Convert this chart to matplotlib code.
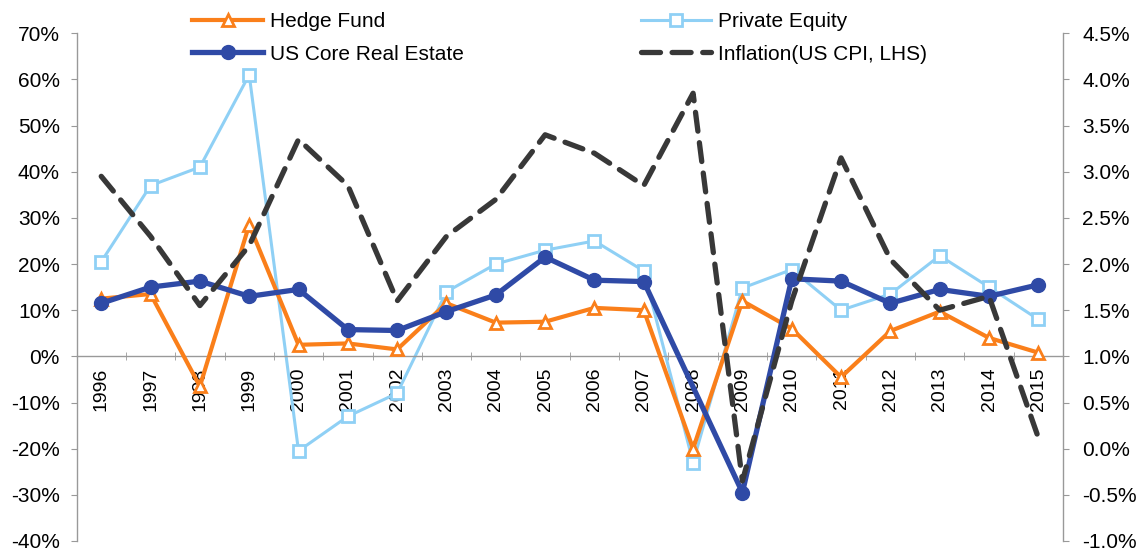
import numpy as np
import matplotlib
matplotlib.use('Agg')
import matplotlib.pyplot as plt
from matplotlib.ticker import FuncFormatter

plt.rcParams['font.family'] = ['Liberation Sans', 'DejaVu Sans']

years = [str(y) for y in range(1996, 2016)]

# annual returns (%), left axis
hedge_fund = [12.5, 13.5, -6.5, 28.5, 2.5, 2.8, 1.5, 11.5, 7.3, 7.5,
              10.5, 10.0, -20.0, 12.0, 6.0, -4.5, 5.5, 9.7, 4.0, 0.8]
private_equity = [20.5, 37.0, 41.0, 61.0, -20.5, -13.0, -8.0, 14.0, 20.0, 23.0,
                  25.0, 18.5, -23.0, 14.8, 18.8, 10.0, 13.5, 21.8, 15.0, 8.0]
# no point shown for 2008, line runs straight from 2007 to 2009
us_core_re = [11.5, 15.0, 16.3, 13.0, 14.5, 5.8, 5.6, 9.7, 13.3, 21.5,
              16.5, 16.2, None, -29.5, 16.8, 16.3, 11.5, 14.5, 13.0, 15.5]
# inflation (%), right axis
inflation = [2.95, 2.3, 1.55, 2.2, 3.35, 2.85, 1.6, 2.3, 2.7, 3.4,
             3.2, 2.85, 3.85, -0.35, 1.6, 3.15, 2.05, 1.5, 1.65, 0.12]

orange = '#FA7F1A'
dark_blue = '#2F4AA6'
light_blue = '#8FD0F5'
dash_col = '#383838'

x = np.arange(len(years))
re_x = [i for i, v in zip(x, us_core_re) if v is not None]
re_y = [v for v in us_core_re if v is not None]

fig = plt.figure(figsize=(11.43, 5.54), dpi=100)
ax = fig.add_axes([0.067, 0.0235, 0.863, 0.9165])
ax2 = ax.twinx()

ax.plot(x, hedge_fund, color=orange, lw=3, marker='^', ms=9,
        mfc='white', mec=orange, mew=2, label='Hedge Fund', zorder=3)
ax.plot(x, private_equity, color=light_blue, lw=2.2, marker='s', ms=8,
        mfc='white', mec=light_blue, mew=2, label='Private Equity', zorder=2)
ax.plot(re_x, re_y, color=dark_blue, lw=3.8, marker='o', ms=10,
        mfc=dark_blue, mec=dark_blue, label='US Core Real Estate', zorder=4)
l4, = ax2.plot(x, inflation, color=dash_col, lw=3.8, dashes=(3.6, 2.2),
               dash_capstyle='round', label='Inflation(US CPI, LHS)')

ax.set_xlim(-0.5, len(years) - 0.5)
ax.set_ylim(-40, 70)
ax2.set_ylim(-1.0, 4.5)
ax.set_yticks(np.arange(-40, 71, 10))
ax2.set_yticks(np.arange(-1.0, 4.51, 0.5))
ax.yaxis.set_major_formatter(FuncFormatter(lambda v, p: '%d%%' % round(v)))
ax2.yaxis.set_major_formatter(FuncFormatter(lambda v, p: '%.1f%%' % v))

# category axis sits on the zero line
ax.spines['bottom'].set_position(('data', 0))
ax.set_xticks(x)
ax.set_xticklabels(years, rotation=90, fontsize=14)
ax.set_xticks(np.arange(-0.5, len(years), 1), minor=True)
ax.tick_params(axis='x', which='major', length=0, pad=8)
ax.tick_params(axis='x', which='minor', length=6, direction='inout', color='#999999')

for a in (ax, ax2):
    a.spines['top'].set_visible(False)
    for s in a.spines.values():
        s.set_color('#999999')
        s.set_linewidth(1)
ax.spines['right'].set_visible(False)
ax2.spines['left'].set_visible(False)
ax2.spines['bottom'].set_visible(False)
ax.tick_params(axis='y', labelsize=15, length=4, color='#999999', pad=8)
ax2.tick_params(axis='y', labelsize=15, length=4, color='#999999', pad=10)

h1, lab1 = ax.get_legend_handles_labels()
handles = [h1[0], h1[2], h1[1], l4]
labels = [lab1[0], lab1[2], lab1[1], l4.get_label()]
leg = fig.legend(handles, labels, ncol=2, frameon=False, fontsize=15,
                 loc='upper left', bbox_to_anchor=(0.152, 1.012),
                 handlelength=3.4, handletextpad=0.3, columnspacing=8.5,
                 labelspacing=0.65)
leg.set_zorder(10)

plt.savefig('out.png')
